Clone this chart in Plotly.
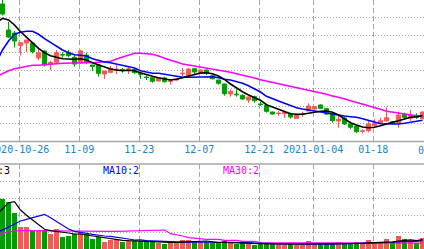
import plotly.graph_objects as go

# ---------------- data ----------------
axis_dates = [
    "2020-10-20", "2020-10-21", "2020-10-22", "2020-10-23", "2020-10-26", "2020-10-27",
    "2020-10-28", "2020-10-29", "2020-10-30", "2020-11-02", "2020-11-03", "2020-11-04",
    "2020-11-05", "2020-11-06", "2020-11-09", "2020-11-10", "2020-11-11", "2020-11-12",
    "2020-11-13", "2020-11-16", "2020-11-17", "2020-11-18", "2020-11-19", "2020-11-20",
    "2020-11-23", "2020-11-24", "2020-11-25", "2020-11-26", "2020-11-27", "2020-11-30",
    "2020-12-01", "2020-12-02", "2020-12-03", "2020-12-04", "2020-12-07", "2020-12-08",
    "2020-12-09", "2020-12-10", "2020-12-11", "2020-12-14", "2020-12-15", "2020-12-16",
    "2020-12-17", "2020-12-18", "2020-12-21", "2020-12-22", "2020-12-23", "2020-12-24",
    "2020-12-25", "2020-12-28", "2020-12-29", "2020-12-30", "2020-12-31", "2021-01-04",
    "2021-01-05", "2021-01-06", "2021-01-07", "2021-01-08", "2021-01-11", "2021-01-12",
    "2021-01-13", "2021-01-14", "2021-01-15", "2021-01-18", "2021-01-19", "2021-01-20",
    "2021-01-21", "2021-01-22", "2021-01-25", "2021-01-26", "2021-01-27", "2021-01-28",
    "2021-01-29", "2021-02-01",
]
ma_dates = axis_dates[0:72]       # 2020-10-20 .. 2021-01-28
candle_dates = axis_dates[1:72]   # 2020-10-21 .. 2021-01-28

tick_dates = ["2020-10-26", "2020-11-09", "2020-11-23", "2020-12-07",
              "2020-12-21", "2021-01-04", "2021-01-18"]
tick_text = ["2020-10-26", "11-09", "11-23", "12-07", "12-21", "2021-01-04", "01-18"]
next_tick_date = "2021-02-01"
next_tick_text = "02-01"

open_ = [19.80, 18.50, 18.35, 17.725, 17.85, 17.85, 17.10, 17.45, 16.80, 16.885,
         17.275, 17.385, 17.135, 16.85, 17.25, 16.75, 16.75, 16.30, 16.385, 16.50,
         16.525, 16.525, 16.535, 16.325, 16.15, 16.115, 15.95, 16.10, 15.935, 16.00,
         16.315, 16.20, 16.565, 16.335, 16.50, 16.215, 16.00, 15.80, 15.30, 15.30,
         15.235, 15.00, 15.165, 14.80, 14.735, 14.40, 14.325, 14.315, 14.315, 14.085,
         14.285, 14.45, 14.55, 14.75, 14.565, 14.315, 13.95, 14.10, 13.80, 13.70,
         13.435, 13.465, 13.715, 13.835, 13.95, 13.915, 13.835, 14.285, 14.085, 14.235,
         14.065]
high = [20.15, 18.90, 18.45, 17.875, 18.00, 17.90, 17.615, 17.475, 16.95, 17.50,
        17.385, 17.50, 17.25, 17.50, 17.365, 16.75, 16.775, 16.45, 16.70, 16.735,
        16.60, 16.70, 16.585, 16.365, 16.235, 16.20, 16.125, 16.165, 16.05, 16.085,
        16.60, 16.575, 16.60, 16.535, 16.535, 16.275, 16.00, 15.825, 15.535, 15.535,
        15.285, 15.165, 15.215, 14.915, 14.75, 14.415, 14.45, 14.45, 14.365, 14.285,
        14.415, 14.835, 14.70, 14.785, 14.60, 14.335, 14.20, 14.165, 13.915, 13.735,
        13.535, 14.00, 14.035, 14.115, 14.635, 13.935, 14.415, 14.365, 14.50, 14.335,
        14.415]
low = [19.225, 18.10, 17.625, 17.225, 17.40, 17.325, 17.00, 16.675, 16.50, 16.835,
       17.115, 17.135, 16.665, 16.85, 16.80, 16.45, 16.165, 16.05, 16.335, 16.30,
       16.365, 16.30, 16.315, 16.05, 16.00, 15.865, 15.925, 15.865, 15.765, 15.965,
       16.20, 16.20, 16.30, 16.30, 16.25, 16.025, 15.765, 15.215, 15.165, 15.165,
       15.00, 14.865, 14.865, 14.70, 14.365, 14.265, 14.215, 14.10, 14.065, 14.085,
       14.165, 14.45, 14.50, 14.55, 14.25, 13.865, 13.615, 13.75, 13.55, 13.35,
       13.335, 13.385, 13.635, 13.80, 13.915, 13.785, 13.615, 14.035, 13.965, 14.05,
       14.05]
close = [19.30, 18.15, 17.95, 17.865, 18.00, 17.425, 17.365, 16.75, 16.875, 17.365,
         17.255, 17.215, 16.80, 17.45, 16.915, 16.675, 16.335, 16.45, 16.585, 16.535,
         16.475, 16.55, 16.365, 16.29, 16.125, 15.935, 16.10, 15.915, 15.95, 16.05,
         16.335, 16.55, 16.40, 16.50, 16.335, 16.065, 15.835, 15.315, 15.435, 15.265,
         15.05, 15.15, 14.965, 14.775, 14.435, 14.30, 14.335, 14.40, 14.15, 14.25,
         14.30, 14.70, 14.665, 14.585, 14.30, 13.965, 14.035, 13.80, 13.635, 13.415,
         13.45, 13.80, 13.835, 13.965, 14.115, 13.80, 14.25, 14.135, 14.25, 14.135,
         14.40]

ma5 = [18.85, 19.085, 19.00, 18.75, 18.415, 18.135, 17.865, 17.585, 17.365, 17.215,
       17.135, 17.065, 17.05, 17.035, 17.065, 17.00, 16.865, 16.75, 16.665, 16.55,
       16.50, 16.465, 16.485, 16.465, 16.365, 16.265, 16.185, 16.115, 16.05, 16.00,
       16.035, 16.115, 16.185, 16.265, 16.35, 16.365, 16.315, 16.20, 16.035, 15.80,
       15.60, 15.415, 15.25, 15.115, 14.985, 14.765, 14.65, 14.515, 14.415, 14.315,
       14.285, 14.285, 14.335, 14.40, 14.435, 14.45, 14.385, 14.25, 14.065, 13.865,
       13.75, 13.65, 13.615, 13.635, 13.715, 13.815, 13.885, 13.965, 14.065, 14.135,
       14.165, 14.215]
ma10 = [16.90, 17.50, 17.95, 18.285, 18.385, 18.435, 18.435, 18.285, 18.065, 17.885,
        17.665, 17.50, 17.365, 17.265, 17.235, 17.20, 17.065, 16.985, 16.90, 16.865,
        16.80, 16.715, 16.665, 16.60, 16.465, 16.385, 16.335, 16.335, 16.285, 16.20,
        16.15, 16.135, 16.135, 16.15, 16.165, 16.165, 16.165, 16.115, 16.035, 16.00,
        15.935, 15.835, 15.715, 15.565, 15.40, 15.185, 15.05, 14.95, 14.835, 14.715,
        14.615, 14.55, 14.50, 14.435, 14.365, 14.335, 14.30, 14.25, 14.20, 14.165,
        14.135, 14.065, 13.965, 13.90, 13.815, 13.80, 13.785, 13.80, 13.835, 13.885,
        13.935, 13.985]
ma30 = [16.165, 16.335, 16.465, 16.565, 16.615, 16.70, 16.735, 16.735, 16.75, 16.785,
        16.815, 16.835, 16.85, 16.85, 16.85, 16.865, 16.865, 16.885, 16.90, 16.935,
        17.05, 17.15, 17.265, 17.335, 17.335, 17.30, 17.285, 17.20, 17.085, 16.985,
        16.90, 16.80, 16.75, 16.70, 16.65, 16.60, 16.565, 16.50, 16.45, 16.385,
        16.315, 16.25, 16.165, 16.10, 16.015, 15.95, 15.865, 15.80, 15.735, 15.665,
        15.60, 15.55, 15.50, 15.435, 15.35, 15.285, 15.20, 15.135, 15.065, 14.965,
        14.885, 14.80, 14.70, 14.615, 14.535, 14.435, 14.385, 14.335, 14.285, 14.235,
        14.215, 14.185]

volume = [1000, 934, 726, 440, 440, 360, 360, 380, 306, 400,
          240, 260, 300, 334, 300, 200, 240, 140, 180, 186,
          140, 154, 154, 154, 140, 134, 126, 100, 114, 126,
          180, 180, 140, 140, 146, 114, 114, 154, 114, 100,
          134, 100, 80, 94, 114, 114, 100, 80, 94, 80,
          80, 160, 94, 94, 94, 100, 140, 100, 94, 140,
          100, 180, 114, 114, 200, 114, 260, 200, 146, 114,
          220]
vol_ma5 = [680, 794, 926, 946, 780, 674, 580, 480, 394, 366,
           354, 334, 320, 300, 300, 280, 260, 246, 220, 200,
           186, 174, 166, 160, 160, 154, 146, 140, 130, 134,
           134, 140, 146, 154, 154, 160, 144, 130, 134, 128,
           120, 124, 120, 106, 102, 104, 100, 100, 100, 100,
           94, 86, 98, 102, 102, 104, 108, 104, 106, 106,
           114, 114, 122, 126, 130, 142, 144, 160, 178, 184,
           166, 188]
vol_ma10 = [320, 380, 440, 500, 560, 594, 626, 666, 694, 626,
            546, 474, 400, 354, 340, 314, 294, 274, 260, 254,
            240, 220, 200, 180, 184, 168, 162, 150, 146, 140,
            134, 138, 140, 140, 138, 138, 136, 134, 140, 140,
            138, 134, 126, 120, 114, 112, 112, 110, 102, 100,
            98, 94, 100, 102, 102, 100, 98, 102, 104, 104,
            110, 112, 114, 116, 118, 128, 130, 142, 152, 158,
            154, 166]
vol_ma30 = [260, 314, 346, 360, 366, 368, 366, 368, 366, 364,
            366, 364, 360, 352, 350, 350, 348, 350, 350, 352,
            354, 358, 360, 362, 362, 380, 380, 380, 380, 306,
            286, 260, 226, 214, 214, 194, 194, 194, 174, 174,
            174, 154, 154, 154, 126, 126, 126, 126, 126, 114,
            114, 114, 114, 114, 114, 114, 114, 114, 114, 114,
            114, 118, 118, 118, 118, 118, 118, 118, 118, 118,
            118, 118]

vol_legend = ["MA5:3", "MA10:2", "MA30:2"]

# ---------------- styles ----------------
W, H = 424, 249
UP = "#f25a5a"
DOWN = "#009c00"
C_MA5, C_MA10, C_MA30 = "#000000", "#0000ff", "#ff00ff"
GRID = "#a6a6a6"
DATE_COLOR = "#1585d0"
MONO = "DejaVu Sans Mono"
TICK_SHIFT = -0.22   # gridlines sit slightly left of the candle centre

main_bottom_px = 141.5
vol_top_px = 164.0
main_dom = [1 - main_bottom_px / H, 1]
vol_dom = [0, 1 - vol_top_px / H]

pos = {d: i for i, d in enumerate(axis_dates)}
xc = [pos[d] for d in candle_dates]
xm = [pos[d] for d in ma_dates]
tickvals = [pos[d] + TICK_SHIFT for d in tick_dates]

fig = go.Figure()

fig.add_trace(go.Candlestick(
    x=xc, open=open_, high=high, low=low, close=close,
    increasing=dict(line=dict(color=UP, width=1), fillcolor=UP),
    decreasing=dict(line=dict(color=DOWN, width=1), fillcolor=DOWN),
    whiskerwidth=0, xaxis="x", yaxis="y", hoverinfo="skip",
))
for vals, col in [(ma30, C_MA30), (ma10, C_MA10), (ma5, C_MA5)]:
    fig.add_trace(go.Scatter(x=xm, y=vals, mode="lines",
                             line=dict(color=col, width=1.6),
                             xaxis="x", yaxis="y", hoverinfo="skip"))

bar_colors = [UP if c >= o else DOWN for o, c in zip(open_, close)]
fig.add_trace(go.Bar(x=xc, y=volume, marker=dict(color=bar_colors, line=dict(width=0)),
                     width=0.82, xaxis="x2", yaxis="y2", hoverinfo="skip"))
for vals, col in [(vol_ma30, C_MA30), (vol_ma10, C_MA10), (vol_ma5, C_MA5)]:
    fig.add_trace(go.Scatter(x=xm, y=vals, mode="lines",
                             line=dict(color=col, width=1.2),
                             xaxis="x2", yaxis="y2", hoverinfo="skip"))

xr = [(0 - 20.5) / 6 + 4, (W - 20.5) / 6 + 4]


def x_to_paper(v):
    return (v - xr[0]) / (xr[1] - xr[0])


common_x = dict(showgrid=True, gridcolor=GRID, gridwidth=1.2, griddash="5px,3px",
                tickvals=tickvals, zeroline=False, showline=False, ticks="",
                range=xr, fixedrange=True, automargin=False)
fig.update_layout(
    width=W, height=H, margin=dict(l=0, r=0, t=0, b=0, autoexpand=False),
    paper_bgcolor="white", plot_bgcolor="white", showlegend=False,
    boxgap=0.3, boxgroupgap=0, bargap=0,
    xaxis=dict(domain=[0, 1], anchor="y", ticktext=tick_text,
               tickfont=dict(family=MONO, size=10, color=DATE_COLOR),
               ticklabeloverflow="allow",
               rangeslider=dict(visible=False), **common_x),
    xaxis2=dict(domain=[0, 1], anchor="y2", matches="x", showticklabels=False,
                **common_x),
    yaxis=dict(domain=main_dom, range=[20 - 0.05 * main_bottom_px, 20.0],
               tick0=20 - 0.05 * main_bottom_px, dtick=0.8855,
               showticklabels=False, showgrid=True, gridcolor=GRID, gridwidth=1,
               griddash="1px,2px", zeroline=False, fixedrange=True, automargin=False),
    yaxis2=dict(domain=vol_dom, range=[0, (H - vol_top_px) * 20], tick0=0, dtick=338,
                showticklabels=False, showgrid=True, gridcolor=GRID, gridwidth=1,
                griddash="1px,2px", zeroline=False, fixedrange=True, automargin=False),
    shapes=[
        dict(type="line", xref="paper", yref="paper", x0=0, x1=1,
             y0=main_dom[0], y1=main_dom[0], line=dict(color=GRID, width=1.5)),
        dict(type="line", xref="paper", yref="paper", x0=0, x1=1,
             y0=vol_dom[1], y1=vol_dom[1], line=dict(color=GRID, width=1.5)),
    ],
)

annotations = []
leg_y = 1 - 170.5 / H
leg_cols = [C_MA5, C_MA10, C_MA30]
leg_x = [(12, "right"), (101, "left"), (221, "left")]
for txt, col, (px, anc) in zip(vol_legend, leg_cols, leg_x):
    annotations.append(dict(text=txt, x=px / W, y=leg_y, xref="paper", yref="paper",
                            xanchor=anc, yanchor="middle", showarrow=False,
                            font=dict(family=MONO, size=10, color=col)))
# the next date label lies beyond the visible range; only its first glyph shows
annotations.append(dict(text=next_tick_text,
                        x=x_to_paper(pos[next_tick_date] + TICK_SHIFT), xref="paper",
                        y=1 - 150.5 / H, yref="paper", xanchor="center", yanchor="middle",
                        showarrow=False, font=dict(family=MONO, size=10, color=DATE_COLOR)))
fig.update_layout(annotations=annotations)

fig.write_html("out.html", config={"displayModeBar": False, "staticPlot": True})
